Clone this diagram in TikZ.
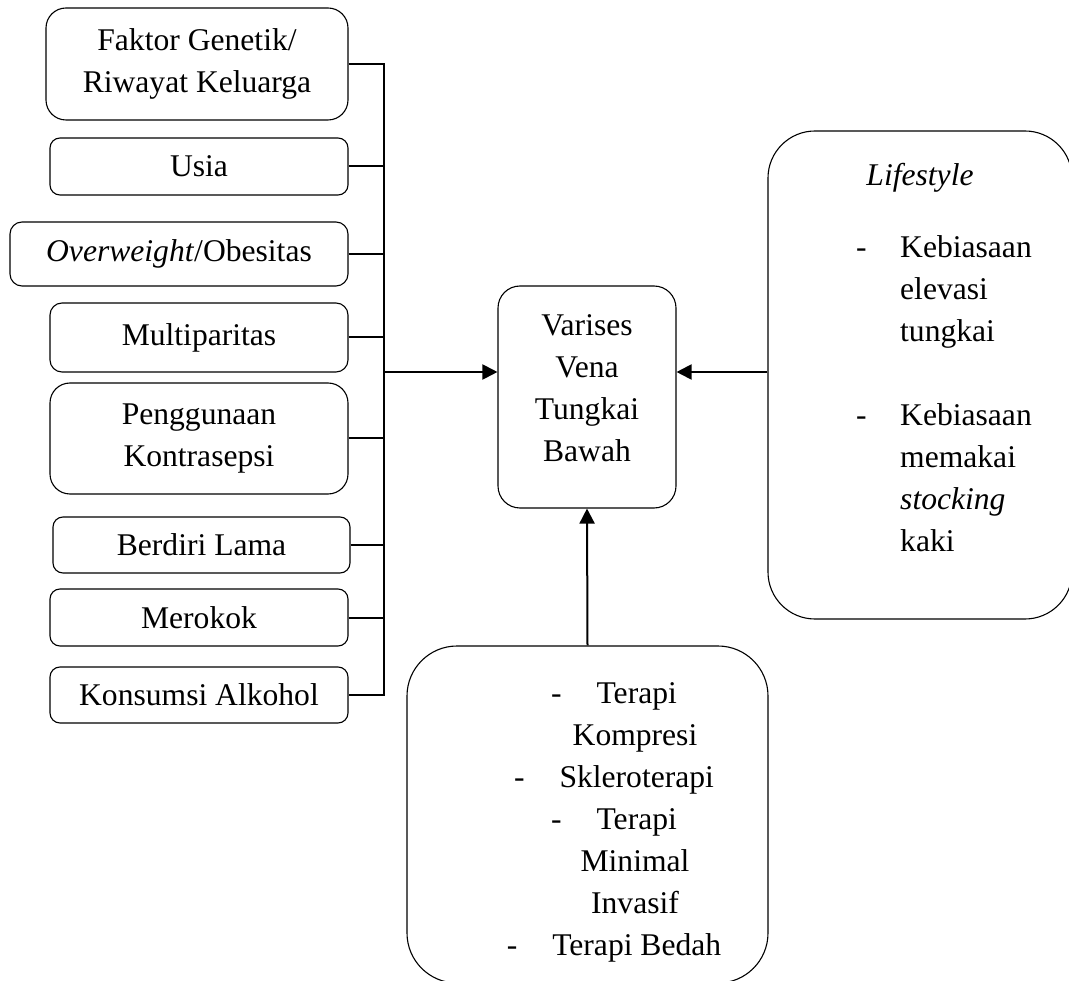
\documentclass[tikz,border=0pt]{standalone}
\RequirePackage{fontspec}
\setmainfont{Liberation Serif}
\RequirePackage{tikz}
\usetikzlibrary{arrows.meta}

\begin{document}
\begin{tikzpicture}[x=1pt,y=-1pt,
        every node/.style={font=\fontsize{31.6}{42}\selectfont},
        box/.style={draw,line width=1.1pt,rounded corners=#1,align=center,inner sep=0pt},
        box/.default=10pt,
        txt/.style={inner sep=0pt},
        link/.style={line width=2pt},
        arr/.style={line width=2pt,-{Triangle[length=15pt,width=15pt]}}]
                \useasboundingbox (0,0) rectangle (1069,981);
                \clip (0,0) rectangle (1069,981);

                \node[box=20pt,minimum width=302pt,minimum height=112pt] (faktor) at (197,64) {Faktor Genetik/\\Riwayat Keluarga};
                \node[box,minimum width=298pt,minimum height=57pt] (usia) at (199,166.5) {Usia};
                \node[box=12pt,minimum width=338pt,minimum height=64pt] (obesitas) at (179,254) {\textit{Overweight}/Obesitas};
                \node[box=12pt,minimum width=298pt,minimum height=69pt] (paritas) at (199,337.5) {Multiparitas};
                \node[box=20pt,minimum width=298pt,minimum height=111pt] (kontrasepsi) at (199,438.5) {Penggunaan\\Kontrasepsi};
                \node[box,minimum width=297pt,minimum height=56pt] (berdiri) at (201.5,545) {Berdiri Lama};
                \node[box,minimum width=298pt,minimum height=57pt] (rokok) at (199,617.5) {Merokok};
                \node[box,minimum width=298pt,minimum height=56pt] (alkohol) at (199,695) {Konsumsi Alkohol};

                \node[box=22pt,minimum width=178pt,minimum height=222pt] (varises) at (587,397) {};
                \node[txt,align=center] (variseslbl) at (587,388.5) {Varises\\Vena\\Tungkai\\Bawah};

                \node[box=47pt,minimum width=304pt,minimum height=488pt] (gaya) at (920,375) {};
                \node[txt] (gayajudul) at (920,178) {\textit{Lifestyle}};
                \node[txt,align=left,anchor=north west] (gayalist) at (856,235.5)
                    {\makebox[44pt][l]{-}Kebiasaan\\
                     \hspace*{44pt}elevasi\\
                     \hspace*{44pt}tungkai\\[42pt]
                     \makebox[44pt][l]{-}Kebiasaan\\
                     \hspace*{44pt}memakai\\
                     \hspace*{44pt}\textit{stocking}\\
                     \hspace*{44pt}kaki};

                \node[box=50pt,minimum width=361pt,minimum height=337pt] (terapi) at (587.5,814.5) {};
                \node[txt,align=center] (terapilist) at (614,822)
                    {-\hspace{35pt}Terapi\\
                     \hspace*{42pt}Kompresi\\
                     -\hspace{35pt}Skleroterapi\\
                     -\hspace{35pt}Terapi\\
                     \hspace*{42pt}Minimal\\
                     \hspace*{42pt}Invasif\\
                     -\hspace{35pt}Terapi Bedah};

                \coordinate (bus) at (384,372);
                \draw[link] (faktor.east) -- (faktor.east -| bus) -- (alkohol.east -| bus) -- (alkohol.east);
                \foreach \n in {usia,obesitas,paritas,kontrasepsi,berdiri,rokok}
                    \draw[link] (\n.east) -- (\n.east -| bus);

                \draw[arr] (bus) -- (bus -| varises.west);
                \draw[arr] (gaya.west |- bus) -- (bus -| varises.east);
                \draw[arr] (terapi.north) -- (varises.south);
            \end{tikzpicture}
\end{document}
